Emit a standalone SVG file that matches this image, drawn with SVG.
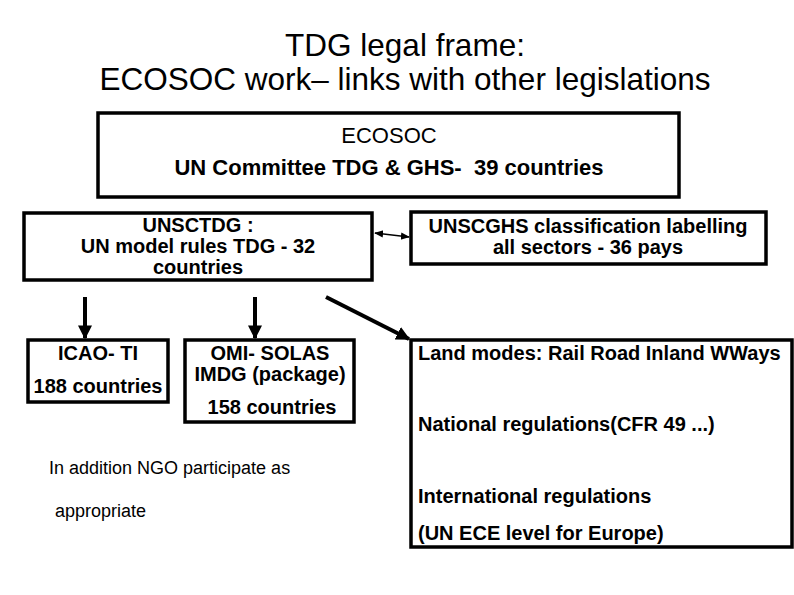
<svg xmlns="http://www.w3.org/2000/svg" width="794" height="595" viewBox="0 0 794 595">
<style>
.b{fill:#fff;stroke:#000;stroke-width:3.5}
.t{font-family:"Liberation Sans",Arial,sans-serif;fill:#000}
.h{font-size:31.5px}
.n{font-size:20px;font-weight:bold}
.s{font-size:18px}
.c{stroke:#000;fill:none}
</style>
<defs>
<marker id="a" viewBox="0 0 10 10" refX="9" refY="5" markerWidth="3.5" markerHeight="3.5" orient="auto-start-reverse"><path d="M0,0L10,5L0,10z"/></marker>
<marker id="sm" viewBox="0 0 10 10" refX="9" refY="5" markerWidth="6" markerHeight="6" orient="auto-start-reverse"><path d="M0,1L10,5L0,9z"/></marker>
</defs>
<rect width="794" height="595" fill="#fff"/>
<g id="title" class="t h" text-anchor="middle">
<text x="405" y="56">TDG legal frame:</text>
<text x="405" y="90">ECOSOC work– links with other legislations</text>
</g>
<g id="ecosoc"><rect class="b" x="98" y="113" width="581" height="84"/>
<text class="t" text-anchor="middle" x="389" y="143" style="font-size:22px">ECOSOC</text>
<text class="t" text-anchor="middle" x="389" y="175" style="font-size:22px;font-weight:bold" xml:space="preserve">UN Committee TDG &amp; GHS-  39 countries</text></g>
<g id="unsctdg"><rect class="b" x="24" y="213" width="348" height="67"/>
<text class="t n" text-anchor="middle" x="198" y="232">UNSCTDG :</text>
<text class="t n" text-anchor="middle" x="198" y="253">UN model rules TDG - 32</text>
<text class="t n" text-anchor="middle" x="198" y="274">countries</text></g>
<g id="ghs"><rect class="b" x="411" y="212" width="355" height="52"/>
<text class="t n" text-anchor="middle" x="588" y="233">UNSCGHS classification labelling</text>
<text class="t n" text-anchor="middle" x="588" y="254">all sectors - 36 pays</text></g>
<g id="icao"><rect class="b" x="28" y="340" width="140" height="62"/>
<text class="t n" text-anchor="middle" x="98" y="360">ICAO- TI</text>
<text class="t n" text-anchor="middle" x="98" y="393">188 countries</text></g>
<g id="omi"><rect class="b" x="185" y="340" width="169" height="82"/>
<text class="t n" text-anchor="middle" x="270" y="360">OMI- SOLAS</text>
<text class="t n" text-anchor="middle" x="270" y="381">IMDG (package)</text>
<text class="t n" text-anchor="middle" x="272" y="414">158 countries</text></g>
<g id="land"><rect class="b" x="411" y="340" width="381" height="207"/>
<g class="t n"><text x="418" y="360">Land modes: Rail Road Inland WWays</text>
<text x="418" y="431">National regulations(CFR 49 ...)</text>
<text x="418" y="503">International regulations</text>
<text x="418" y="540">(UN ECE level for Europe)</text></g></g>
<g id="ngo" class="t s"><text x="49" y="474">In addition NGO participate as</text>
<text x="55" y="517">appropriate</text></g>
<g id="connectors">
<line class="c" x1="85" y1="297" x2="85" y2="338" stroke-width="4" marker-end="url(#a)"/>
<line class="c" x1="255" y1="297" x2="255" y2="338" stroke-width="4" marker-end="url(#a)"/>
<line class="c" x1="326" y1="297" x2="409" y2="339" stroke-width="4" marker-end="url(#a)"/>
<line class="c" x1="375" y1="233" x2="409" y2="237" stroke-width="1.5" marker-start="url(#sm)" marker-end="url(#sm)"/>
</g>
</svg>
